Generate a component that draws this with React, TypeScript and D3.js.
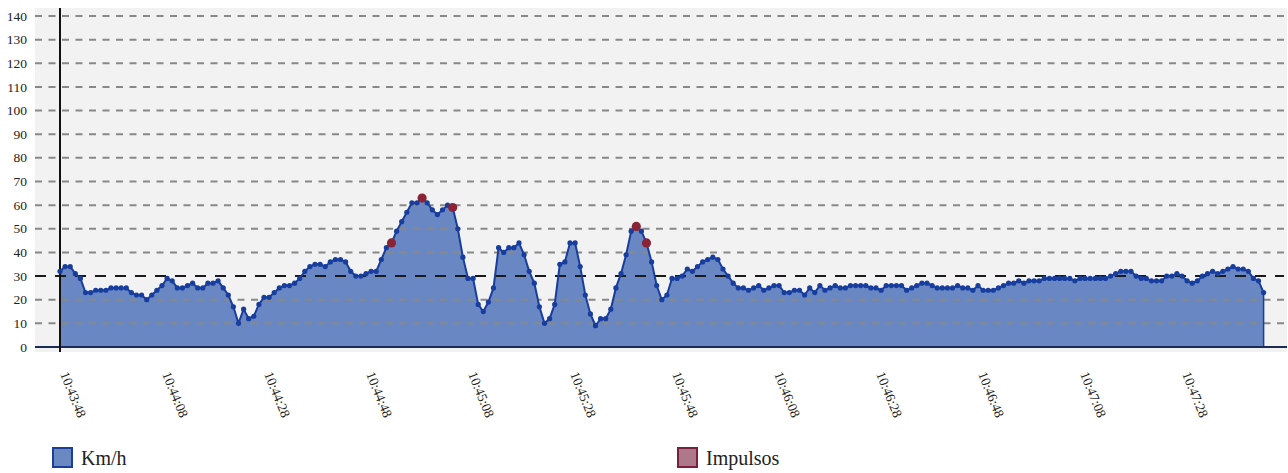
import React from "react";
import * as d3 from "d3";

// Speed (km/h), one sample per second starting at 10:43:48
const speedKmh: number[] = [
  32, 34, 34, 31, 29, 23, 23, 24, 24, 24,
  25, 25, 25, 25, 23, 22, 22, 20, 22, 24,
  26, 29, 28, 25, 25, 26, 27, 25, 25, 27,
  27, 28, 25, 22, 17, 10, 16, 12, 13, 18,
  21, 21, 23, 25, 26, 26, 27, 29, 32, 34,
  35, 35, 34, 36, 37, 37, 36, 32, 30, 30,
  31, 32, 32, 37, 42, 44, 49, 53, 57, 61,
  61, 63, 61, 58, 56, 58, 60, 59, 50, 38,
  29, 29, 18, 15, 19, 25, 42, 40, 42, 42,
  44, 39, 32, 27, 17, 10, 12, 18, 35, 36,
  44, 44, 34, 22, 14, 9, 12, 12, 16, 25,
  31, 39, 49, 51, 49, 44, 36, 26, 20, 22,
  29, 29, 30, 33, 32, 34, 36, 37, 38, 37,
  33, 30, 27, 25, 25, 24, 25, 26, 24, 25,
  26, 26, 23, 23, 24, 24, 22, 25, 23, 26,
  24, 25, 26, 25, 25, 26, 26, 26, 26, 25,
  25, 24, 26, 26, 26, 26, 24, 25, 26, 27,
  27, 26, 25, 25, 25, 25, 26, 25, 25, 24,
  26, 24, 24, 24, 25, 26, 27, 27, 28, 27,
  28, 28, 28, 29, 29, 29, 29, 29, 29, 28,
  29, 29, 29, 29, 29, 29, 30, 31, 32, 32,
  32, 30, 29, 29, 28, 28, 28, 30, 30, 31,
  30, 28, 27, 28, 30, 31, 32, 31, 32, 33,
  34, 33, 33, 32, 29, 28, 23,
];

// Impulses (second offset, km/h)
const impulseSeconds: number[] = [65, 71, 77, 113, 115];
const impulseValues: number[] = [44, 63, 59, 51, 44];

const xTickSeconds: number[] = [0, 20, 40, 60, 80, 100, 120, 140, 160, 180, 200, 220];
const xTickLabels: string[] = [
  "10:43:48", "10:44:08", "10:44:28", "10:44:48", "10:45:08", "10:45:28",
  "10:45:48", "10:46:08", "10:46:28", "10:46:48", "10:47:08", "10:47:28",
];
const yTicks: number[] = [0, 10, 20, 30, 40, 50, 60, 70, 80, 90, 100, 110, 120, 130, 140];
const thresholdValue = 30;

const legendItems = [
  { label: "Km/h", fill: "#6a88c2", stroke: "#1b3f97" },
  { label: "Impulsos", fill: "#ad7889", stroke: "#7a1f3c" },
];

const W = 1288;
const H = 473;
const FONT = "'Liberation Serif', 'DejaVu Serif', serif";

export default function App() {
  const x = d3.scaleLinear().domain([0, 220]).range([60, 1182]);
  const y = d3.scaleLinear().domain([0, 140]).range([347, 16]);

  const pts: [number, number][] = speedKmh.map((v, i) => [i, v]);
  const area = d3
    .area<[number, number]>()
    .x((d) => x(d[0]))
    .y0(y(0))
    .y1((d) => y(d[1]));
  const line = d3
    .line<[number, number]>()
    .x((d) => x(d[0]))
    .y((d) => y(d[1]));

  const plotLeft = 35;
  const plotRight = 1287;
  const plotTop = 8;
  const plotBottom = 352;

  return (
    <div style={{ position: "absolute", left: 0, top: 0, width: W, height: H }}>
      <svg width={W} height={H} style={{ display: "block", fontFamily: FONT }}>
        <rect x={0} y={0} width={W} height={H} fill="#ffffff" />
        <rect
          x={plotLeft}
          y={plotTop}
          width={plotRight - plotLeft}
          height={plotBottom - plotTop}
          fill="#f2f2f2"
        />
        {/* y tick labels */}
        {yTicks.map((t) => (
          <text
            key={"yl" + t}
            x={27}
            y={y(t)}
            dy="0.34em"
            textAnchor="end"
            fontSize={13.5}
            fill="#222"
          >
            {t}
          </text>
        ))}
        {/* area */}
        <path d={area(pts) || ""} fill="#1a4aa8" fillOpacity={0.63} stroke="none" />
        {/* grid lines */}
        {yTicks
          .filter((t) => t > 0)
          .map((t) =>
            t === thresholdValue ? (
              <line
                key={"g" + t}
                x1={plotLeft}
                x2={plotRight - 3}
                y1={y(t)}
                y2={y(t)}
                stroke="#1a1a1a"
                strokeWidth={2}
                strokeDasharray="11 9"
              />
            ) : (
              <line
                key={"g" + t}
                x1={plotLeft}
                x2={plotRight - 3}
                y1={y(t)}
                y2={y(t)}
                stroke="#888"
                strokeWidth={2}
                strokeDasharray="7 6.5"
              />
            )
          )}
        {/* area outline edges */}
        <line
          x1={x(speedKmh.length - 1)}
          x2={x(speedKmh.length - 1)}
          y1={y(speedKmh[speedKmh.length - 1])}
          y2={y(0)}
          stroke="#1a3d99"
          strokeWidth={1.5}
        />
        {/* baseline */}
        <line x1={plotLeft} x2={plotRight} y1={y(0)} y2={y(0)} stroke="#1c2b55" strokeWidth={2} />
        {/* y axis */}
        <line x1={x(0)} x2={x(0)} y1={plotTop} y2={plotBottom} stroke="#111" strokeWidth={2} />
        {/* line */}
        <path d={line(pts) || ""} fill="none" stroke="#173d9e" strokeWidth={2} />
        {pts.map((d) => (
          <circle key={"p" + d[0]} cx={x(d[0])} cy={y(d[1])} r={2.6} fill="#173d9e" />
        ))}
        {impulseSeconds.map((s, i) => (
          <circle
            key={"imp" + s}
            cx={x(s)}
            cy={y(impulseValues[i])}
            r={4.6}
            fill="#8a2336"
          />
        ))}
        {/* x tick labels */}
        {xTickSeconds.map((s, i) => (
          <text
            key={"xl" + s}
            transform={`translate(${x(s)},374) rotate(68)`}
            fontSize={13.5}
            fill="#222"
            textAnchor="start"
          >
            {xTickLabels[i]}
          </text>
        ))}
        {/* legend */}
        {legendItems.map((item, i) => {
          const lx = i === 0 ? 52 : 677;
          return (
            <g key={item.label} transform={`translate(${lx},447)`}>
              <rect x={1} y={1} width={19} height={19} fill={item.fill} stroke={item.stroke} strokeWidth={2} />
              <text x={29} y={18} fontSize={20} fill="#222">
                {item.label}
              </text>
            </g>
          );
        })}
      </svg>
    </div>
  );
}
